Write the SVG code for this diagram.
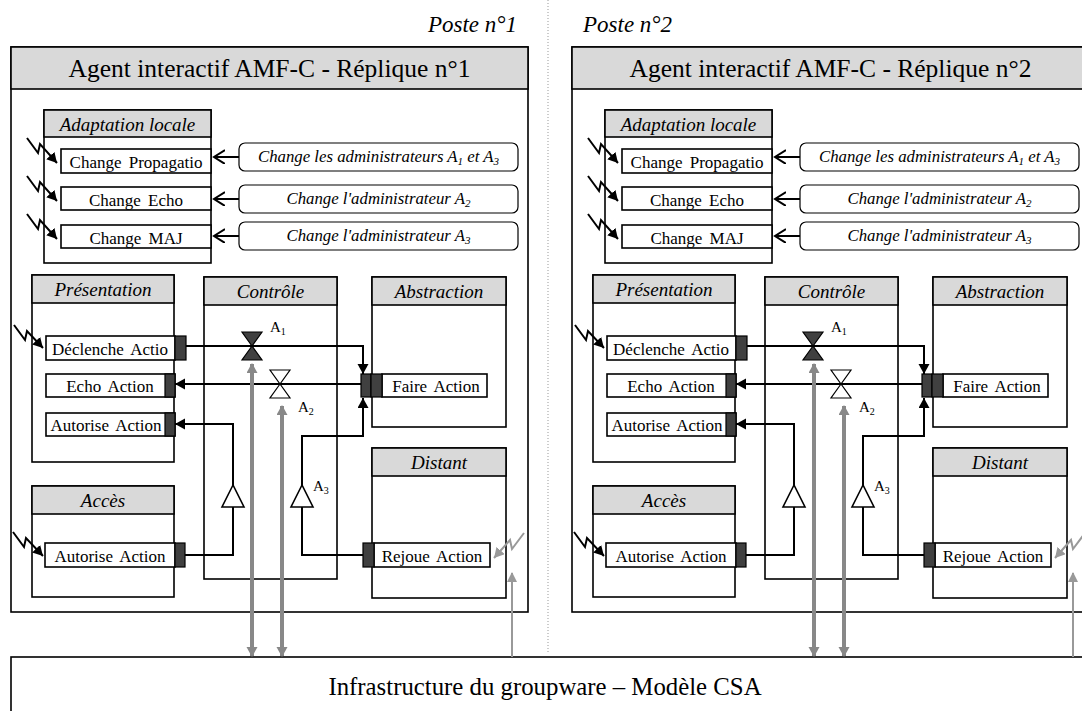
<svg xmlns="http://www.w3.org/2000/svg" width="1082" height="711" viewBox="0 0 1082 711" font-family="'Liberation Serif', 'DejaVu Serif', serif">
<style>
text{font-family:'Liberation Serif','DejaVu Serif',serif}
.box{fill:#fff;stroke:#000;stroke-width:1.6}
.hdr{fill:#d9d9d9;stroke:#000;stroke-width:1.6}
.port{fill:#404040;stroke:#000;stroke-width:1.2}
.ln{fill:none;stroke:#000;stroke-width:2}
.gthick{fill:none;stroke:#888;stroke-width:4}
.gthin{fill:none;stroke:#999;stroke-width:2}
.t{fill:#000}
.ttl{font-size:25.5px;text-anchor:middle}
.sec{font-style:italic;font-size:19px;text-anchor:middle}
.itm{font-size:17px;text-anchor:middle;word-spacing:3px}
.cmd{font-style:italic;font-size:16.8px;text-anchor:middle}
.lbl{font-size:15px}
.cmdbox{fill:#fff;stroke:#000;stroke-width:1.2}
.vfill{fill:#404040;stroke:#000;stroke-width:1.2}
.vopen{fill:#fff;stroke:#000;stroke-width:1.2}
.tri{fill:#fff;stroke:#000;stroke-width:1.6}
</style>
<defs>
<marker id="ah" markerUnits="userSpaceOnUse" markerWidth="12" markerHeight="12" refX="10" refY="5.5" orient="auto"><path d="M0,0 L10,5.5 L0,11 z" fill="#000"/></marker>
<marker id="oa" markerUnits="userSpaceOnUse" markerWidth="14" markerHeight="16" refX="11" refY="7" orient="auto"><path d="M0,0 L11,7 L0,14" fill="none" stroke="#000" stroke-width="2"/></marker>
<marker id="bolt" markerUnits="userSpaceOnUse" markerWidth="12" markerHeight="12" refX="10" refY="5.5" orient="auto"><path d="M0,0 L10,5.5 L0,11 z" fill="#000"/></marker>
<marker id="gbolt" markerUnits="userSpaceOnUse" markerWidth="12" markerHeight="12" refX="10" refY="5.5" orient="auto"><path d="M0,0 L10,5.5 L0,11 z" fill="#999"/></marker>
<marker id="ga" markerUnits="userSpaceOnUse" markerWidth="12" markerHeight="12" refX="9" refY="5.5" orient="auto-start-reverse"><path d="M0,0 L10,5.5 L0,11 z" fill="#888"/></marker>
<marker id="gt" markerUnits="userSpaceOnUse" markerWidth="12" markerHeight="12" refX="9" refY="5" orient="auto"><path d="M0,0 L10,5 L0,10 z" fill="#999"/></marker>
</defs>
<rect width="1082" height="711" fill="#fff"/>

<line x1="548" y1="0" x2="548" y2="652" stroke="#999" stroke-width="1" stroke-dasharray="1,2"/>
<text class="t" x="517" y="32" font-size="23" font-style="italic" text-anchor="end">Poste n°1</text>
<text class="t" x="583" y="32" font-size="23" font-style="italic">Poste n°2</text>

<!-- ================= REPLICA 1 ================= -->
<g id="replica-1">
  <g id="agent-1">
    <rect class="box" x="11" y="47" width="517" height="565"/>
    <rect class="hdr" x="11" y="47" width="517" height="42"/>
    <text class="t ttl" x="269.5" y="77">Agent interactif AMF-C - Réplique n°1</text>
  </g>
  <g id="adaptation-1">
    <rect class="box" x="44" y="110" width="167" height="153"/>
    <rect class="hdr" x="44" y="110" width="167" height="27"/>
    <text class="t sec" x="127.5" y="131">Adaptation locale</text>
    <rect class="box" x="61" y="149" width="150" height="24"/>
    <text class="t itm" x="136" y="168" word-spacing="1">Change Propagatio</text>
    <rect class="box" x="61" y="187" width="150" height="23"/>
    <text class="t itm" x="136" y="206">Change Echo</text>
    <rect class="box" x="61" y="225" width="150" height="23"/>
    <text class="t itm" x="136" y="244">Change MAJ</text>
  </g>
  <g id="cmd-1a-1"><rect class="cmdbox" x="239" y="143" width="279" height="28" rx="6"/>
    <text class="t cmd" x="378.5" y="162">Change les administrateurs A<tspan font-size="11" dy="3">1</tspan><tspan dy="-3"> et A</tspan><tspan font-size="11" dy="3">3</tspan></text></g>
  <g id="cmd-2-1"><rect class="cmdbox" x="239" y="185" width="279" height="28" rx="6"/>
    <text class="t cmd" x="378.5" y="204">Change l'administrateur A<tspan font-size="11" dy="3">2</tspan></text></g>
  <g id="cmd-3-1"><rect class="cmdbox" x="239" y="222" width="279" height="28" rx="6"/>
    <text class="t cmd" x="378.5" y="241">Change l'administrateur A<tspan font-size="11" dy="3">3</tspan></text></g>
  <g id="presentation-1">
    <rect class="box" x="32" y="275" width="142" height="187"/>
    <rect class="hdr" x="32" y="275" width="142" height="28"/>
    <text class="t sec" x="103" y="296">Présentation</text>
    <rect class="box" x="46" y="336" width="129" height="24"/>
    <rect class="port" x="175" y="336" width="11" height="24"/>
    <text class="t itm" x="110" y="355">Déclenche Actio</text>
    <rect class="box" x="46" y="374" width="129" height="23"/>
    <rect class="port" x="165" y="374" width="10" height="23"/>
    <text class="t itm" x="110" y="392">Echo Action</text>
    <rect class="box" x="46" y="413" width="129" height="23"/>
    <rect class="port" x="165" y="413" width="10" height="23"/>
    <text class="t itm" x="106" y="431">Autorise Action</text>
  </g>
  <g id="controle-1">
    <rect class="box" x="204" y="277" width="133" height="302"/>
    <rect class="hdr" x="204" y="277" width="133" height="28"/>
    <text class="t sec" x="270.5" y="298">Contrôle</text>
  </g>
  <g id="abstraction-1">
    <rect class="box" x="372" y="277" width="134" height="150"/>
    <rect class="hdr" x="372" y="277" width="134" height="28"/>
    <text class="t sec" x="439" y="298">Abstraction</text>
    <rect class="box" x="382" y="374" width="105" height="23"/>
    <rect class="port" x="361" y="374" width="10" height="23"/>
    <rect class="port" x="371" y="374" width="11" height="23"/>
    <text class="t itm" x="436" y="392">Faire Action</text>
  </g>
  <g id="distant-1">
    <rect class="box" x="372" y="448" width="134" height="150"/>
    <rect class="hdr" x="372" y="448" width="134" height="28"/>
    <text class="t sec" x="439" y="469">Distant</text>
    <rect class="box" x="374" y="543" width="116" height="24"/>
    <rect class="port" x="363" y="543" width="11" height="24"/>
    <text class="t itm" x="432" y="562">Rejoue Action</text>
  </g>
  <g id="acces-1">
    <rect class="box" x="32" y="486" width="142" height="111"/>
    <rect class="hdr" x="32" y="486" width="142" height="28"/>
    <text class="t sec" x="103" y="507">Accès</text>
    <rect class="box" x="45" y="543" width="130" height="24"/>
    <rect class="port" x="175" y="543" width="10" height="24"/>
    <text class="t itm" x="110" y="562">Autorise Action</text>
  </g>
</g>

<!-- ================= REPLICA 2 ================= -->
<g id="replica-2" transform="translate(561,0)">
  <g id="agent-2">
    <rect class="box" x="11" y="47" width="517" height="565"/>
    <rect class="hdr" x="11" y="47" width="517" height="42"/>
    <text class="t ttl" x="269.5" y="77">Agent interactif AMF-C - Réplique n°2</text>
  </g>
  <g id="adaptation-2">
    <rect class="box" x="44" y="110" width="167" height="153"/>
    <rect class="hdr" x="44" y="110" width="167" height="27"/>
    <text class="t sec" x="127.5" y="131">Adaptation locale</text>
    <rect class="box" x="61" y="149" width="150" height="24"/>
    <text class="t itm" x="136" y="168" word-spacing="1">Change Propagatio</text>
    <rect class="box" x="61" y="187" width="150" height="23"/>
    <text class="t itm" x="136" y="206">Change Echo</text>
    <rect class="box" x="61" y="225" width="150" height="23"/>
    <text class="t itm" x="136" y="244">Change MAJ</text>
  </g>
  <g id="cmd-1a-2"><rect class="cmdbox" x="239" y="143" width="279" height="28" rx="6"/>
    <text class="t cmd" x="378.5" y="162">Change les administrateurs A<tspan font-size="11" dy="3">1</tspan><tspan dy="-3"> et A</tspan><tspan font-size="11" dy="3">3</tspan></text></g>
  <g id="cmd-2-2"><rect class="cmdbox" x="239" y="185" width="279" height="28" rx="6"/>
    <text class="t cmd" x="378.5" y="204">Change l'administrateur A<tspan font-size="11" dy="3">2</tspan></text></g>
  <g id="cmd-3-2"><rect class="cmdbox" x="239" y="222" width="279" height="28" rx="6"/>
    <text class="t cmd" x="378.5" y="241">Change l'administrateur A<tspan font-size="11" dy="3">3</tspan></text></g>
  <g id="presentation-2">
    <rect class="box" x="32" y="275" width="142" height="187"/>
    <rect class="hdr" x="32" y="275" width="142" height="28"/>
    <text class="t sec" x="103" y="296">Présentation</text>
    <rect class="box" x="46" y="336" width="129" height="24"/>
    <rect class="port" x="175" y="336" width="11" height="24"/>
    <text class="t itm" x="110" y="355">Déclenche Actio</text>
    <rect class="box" x="46" y="374" width="129" height="23"/>
    <rect class="port" x="165" y="374" width="10" height="23"/>
    <text class="t itm" x="110" y="392">Echo Action</text>
    <rect class="box" x="46" y="413" width="129" height="23"/>
    <rect class="port" x="165" y="413" width="10" height="23"/>
    <text class="t itm" x="106" y="431">Autorise Action</text>
  </g>
  <g id="controle-2">
    <rect class="box" x="204" y="277" width="133" height="302"/>
    <rect class="hdr" x="204" y="277" width="133" height="28"/>
    <text class="t sec" x="270.5" y="298">Contrôle</text>
  </g>
  <g id="abstraction-2">
    <rect class="box" x="372" y="277" width="134" height="150"/>
    <rect class="hdr" x="372" y="277" width="134" height="28"/>
    <text class="t sec" x="439" y="298">Abstraction</text>
    <rect class="box" x="382" y="374" width="105" height="23"/>
    <rect class="port" x="361" y="374" width="10" height="23"/>
    <rect class="port" x="371" y="374" width="11" height="23"/>
    <text class="t itm" x="436" y="392">Faire Action</text>
  </g>
  <g id="distant-2">
    <rect class="box" x="372" y="448" width="134" height="150"/>
    <rect class="hdr" x="372" y="448" width="134" height="28"/>
    <text class="t sec" x="439" y="469">Distant</text>
    <rect class="box" x="374" y="543" width="116" height="24"/>
    <rect class="port" x="363" y="543" width="11" height="24"/>
    <text class="t itm" x="432" y="562">Rejoue Action</text>
  </g>
  <g id="acces-2">
    <rect class="box" x="32" y="486" width="142" height="111"/>
    <rect class="hdr" x="32" y="486" width="142" height="28"/>
    <text class="t sec" x="103" y="507">Accès</text>
    <rect class="box" x="45" y="543" width="130" height="24"/>
    <rect class="port" x="175" y="543" width="10" height="24"/>
    <text class="t itm" x="110" y="562">Autorise Action</text>
  </g>
</g>

<g id="infrastructure">
  <rect class="box" x="11" y="657" width="1080" height="60"/>
  <text class="t" x="545" y="695" font-size="24.8" text-anchor="middle">Infrastructure du groupware – Modèle CSA</text>
</g>

<!-- ================= CONNECTORS ================= -->
<g id="connectors">
  <g id="conn-1">
    <path class="ln" d="M239,157 H214" marker-end="url(#oa)"/>
    <path class="ln" d="M239,199 H214" marker-end="url(#oa)"/>
    <path class="ln" d="M239,236 H214" marker-end="url(#oa)"/>
    <path class="ln" d="M27,138 L38,153 L40,144 L57,163" marker-end="url(#bolt)"/>
    <path class="ln" d="M27,176 L38,191 L40,182 L57,201" marker-end="url(#bolt)"/>
    <path class="ln" d="M27,214 L38,229 L40,220 L57,239" marker-end="url(#bolt)"/>
    <path class="ln" d="M14,325 L25,340 L27,331 L43,348" marker-end="url(#bolt)"/>
    <path class="ln" d="M13,532 L24,547 L26,538 L43,556" marker-end="url(#bolt)"/>
    <path fill="none" stroke="#999" stroke-width="2" d="M524,533 L512,549 L510,540 L494,558" marker-end="url(#gbolt)"/>
    <path class="ln" d="M186,346 H363 V374" marker-end="url(#ah)"/>
    <path class="ln" d="M361,384 H175" marker-end="url(#ah)"/>
    <path class="ln" d="M185,555 H233 V424 H175" marker-end="url(#ah)"/>
    <path class="ln" d="M363,555 H302 V436 H363 V398" marker-end="url(#ah)"/>
  </g>
  <g id="conn-2" transform="translate(561,0)">
    <path class="ln" d="M239,157 H214" marker-end="url(#oa)"/>
    <path class="ln" d="M239,199 H214" marker-end="url(#oa)"/>
    <path class="ln" d="M239,236 H214" marker-end="url(#oa)"/>
    <path class="ln" d="M27,138 L38,153 L40,144 L57,163" marker-end="url(#bolt)"/>
    <path class="ln" d="M27,176 L38,191 L40,182 L57,201" marker-end="url(#bolt)"/>
    <path class="ln" d="M27,214 L38,229 L40,220 L57,239" marker-end="url(#bolt)"/>
    <path class="ln" d="M14,325 L25,340 L27,331 L43,348" marker-end="url(#bolt)"/>
    <path class="ln" d="M13,532 L24,547 L26,538 L43,556" marker-end="url(#bolt)"/>
    <path fill="none" stroke="#999" stroke-width="2" d="M524,533 L512,549 L510,540 L494,558" marker-end="url(#gbolt)"/>
    <path class="ln" d="M186,346 H363 V374" marker-end="url(#ah)"/>
    <path class="ln" d="M361,384 H175" marker-end="url(#ah)"/>
    <path class="ln" d="M185,555 H233 V424 H175" marker-end="url(#ah)"/>
    <path class="ln" d="M363,555 H302 V436 H363 V398" marker-end="url(#ah)"/>
  </g>
  <g id="network">
    <path class="gthick" d="M252,364 V656" marker-start="url(#ga)" marker-end="url(#ga)"/>
    <path class="gthick" d="M282,406 V656" marker-start="url(#ga)" marker-end="url(#ga)"/>
    <path class="gthin" d="M512,657 V573" marker-end="url(#gt)"/>
    <path class="gthick" d="M814,364 V656" marker-start="url(#ga)" marker-end="url(#ga)"/>
    <path class="gthick" d="M844,406 V656" marker-start="url(#ga)" marker-end="url(#ga)"/>
    <path class="gthin" d="M1073,657 V573" marker-end="url(#gt)"/>
  </g>
</g>

<!-- ================= ADMINISTRATORS ================= -->
<g id="admins-1">
  <g id="A1-1"><polygon class="vfill" points="242,332 262,332 252,346"/><polygon class="vfill" points="252,346 242,360 262,360"/>
    <text class="t lbl" x="270" y="332">A<tspan font-size="10" dy="3">1</tspan></text></g>
  <g id="A2-1"><polygon class="vopen" points="270,370 290,370 280,384"/><polygon class="vopen" points="280,384 270,398 290,398"/>
    <text class="t lbl" x="298" y="412">A<tspan font-size="10" dy="3">2</tspan></text></g>
  <g id="A3-1"><polygon class="tri" points="302,485 291,507 313,507"/>
    <text class="t lbl" x="313" y="491">A<tspan font-size="10" dy="3">3</tspan></text></g>
  <g id="Aacc-1"><polygon class="tri" points="233,485 222,507 244,507"/></g>
</g>
<g id="admins-2" transform="translate(561,0)">
  <g id="A1-2"><polygon class="vfill" points="242,332 262,332 252,346"/><polygon class="vfill" points="252,346 242,360 262,360"/>
    <text class="t lbl" x="270" y="332">A<tspan font-size="10" dy="3">1</tspan></text></g>
  <g id="A2-2"><polygon class="vopen" points="270,370 290,370 280,384"/><polygon class="vopen" points="280,384 270,398 290,398"/>
    <text class="t lbl" x="298" y="412">A<tspan font-size="10" dy="3">2</tspan></text></g>
  <g id="A3-2"><polygon class="tri" points="302,485 291,507 313,507"/>
    <text class="t lbl" x="313" y="491">A<tspan font-size="10" dy="3">3</tspan></text></g>
  <g id="Aacc-2"><polygon class="tri" points="233,485 222,507 244,507"/></g>
</g>
</svg>
